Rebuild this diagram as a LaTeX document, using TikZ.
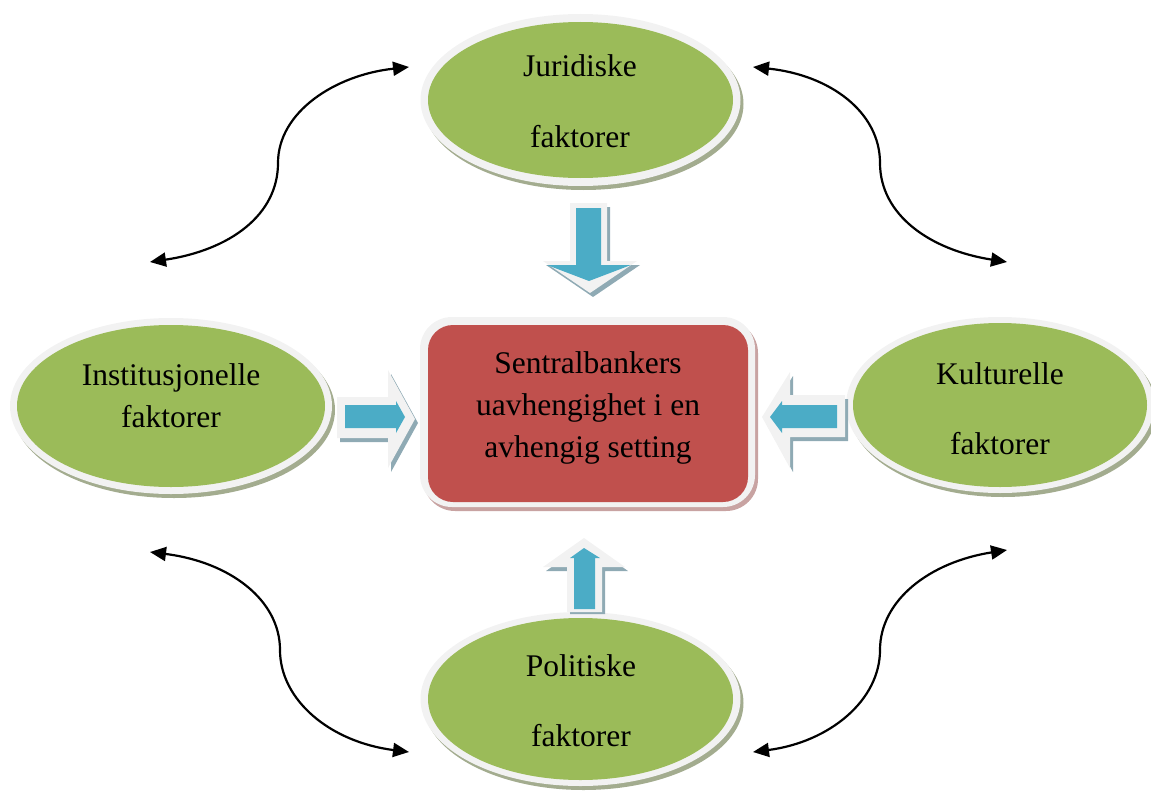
\documentclass[tikz,border=0pt]{standalone}
\usepackage{fontspec}
\setmainfont{Liberation Serif}
\usetikzlibrary{shapes.geometric,arrows.meta}
\definecolor{fgreen}{HTML}{9BBB59}
\definecolor{fred}{HTML}{C0504D}
\definecolor{fblue}{HTML}{4BACC6}
\definecolor{rim}{HTML}{F2F2F2}
\definecolor{gshadow}{HTML}{A3AC8F}
\definecolor{rshadow}{HTML}{C8A3A2}
\definecolor{bshadow}{HTML}{8FAAB4}
\tikzset{
  greenell/.style={ellipse, fill=fgreen, inner sep=0pt, draw=none},
  redbox/.style={rectangle, rounded corners=25pt, fill=fred, inner sep=0pt, draw=none},
  lbl/.style={anchor=base, inner sep=0pt, font=\fontsize{31.5}{38}\selectfont},
  dbl/.style={line width=2.2pt, {Triangle[length=16pt,width=14pt]}-{Triangle[length=16pt,width=14pt]}},
}
\begin{document}
\begin{tikzpicture}[x=1pt,y=-1pt]
\useasboundingbox (0,0) rectangle (1151,792);

% ---------- ellipses (shadow, rim, green) ----------
% top
\fill[gshadow] (583.5,104) ellipse [x radius=160pt, y radius=86pt];
\fill[rim] (580.5,100) ellipse [x radius=160pt, y radius=86pt];
\node[greenell, minimum width=305pt, minimum height=156pt] (jur) at (580.5,100) {};
% left
\fill[gshadow] (174,410) ellipse [x radius=161pt, y radius=88pt];
\fill[rim] (171,406) ellipse [x radius=161pt, y radius=88pt];
\node[greenell, minimum width=308pt, minimum height=162pt] (inst) at (171,406) {};
% right
\fill[gshadow] (1003,409) ellipse [x radius=154pt, y radius=88pt];
\fill[rim] (1000,405) ellipse [x radius=154pt, y radius=88pt];
\node[greenell, minimum width=294pt, minimum height=164pt] (kult) at (1000,405) {};
% bottom
\fill[gshadow] (583.5,703) ellipse [x radius=160pt, y radius=87pt];
\fill[rim] (580.5,699) ellipse [x radius=160pt, y radius=87pt];
\node[greenell, minimum width=305pt, minimum height=162pt] (pol) at (580.5,699) {};

% ---------- central box ----------
\fill[rshadow, rounded corners=32pt] (423,321) rectangle (758,511);
\fill[rim, rounded corners=32pt] (420,317) rectangle (755,507);
\node[redbox, minimum width=320pt, minimum height=177pt] (cb) at (588,413.5) {};

% ---------- block arrows ----------
% down arrow (top)
\fill[bshadow] (573,207) -- (610,207) -- (610,265) -- (640,265) -- (593,297) -- (546,265) -- (573,265) -- cycle;
\fill[rim] (570,203) -- (607,203) -- (607,261) -- (637,261) -- (590,293) -- (543,261) -- (570,261) -- cycle;
\fill[fblue] (576,208) -- (601,208) -- (601,265) -- (631,265) -- (589,281) -- (547,265) -- (576,265) -- cycle;
% right-pointing arrow (left)
\fill[bshadow] (340,401) -- (391,401) -- (391,374) -- (418,423) -- (391,472) -- (391,442) -- (340,442) -- cycle;
\fill[rim] (337,397) -- (388,397) -- (388,370) -- (415,419) -- (388,468) -- (388,438) -- (337,438) -- cycle;
\fill[fblue] (345,405) -- (396,405) -- (396,401) -- (405,417) -- (396,433) -- (396,428) -- (345,428) -- cycle;
% left-pointing arrow (right)
\fill[bshadow] (848,399) -- (793,399) -- (793,376) -- (765,421) -- (793,472) -- (793,441) -- (848,441) -- cycle;
\fill[rim] (845,395) -- (790,395) -- (790,372) -- (762,417) -- (790,468) -- (790,437) -- (845,437) -- cycle;
\fill[fblue] (837,405) -- (782,405) -- (782,401) -- (770,417) -- (782,433) -- (782,428) -- (837,428) -- cycle;
% up arrow (bottom)
\fill[bshadow] (570,614) -- (570,571) -- (546,571) -- (587,542) -- (628,571) -- (605,571) -- (605,614) -- cycle;
\fill[rim] (567,612) -- (567,567) -- (543,567) -- (584,538) -- (625,567) -- (602,567) -- (602,612) -- cycle;
\fill[fblue] (574,609) -- (574,558) -- (570,558) -- (584,548) -- (600,558) -- (595,558) -- (595,609) -- cycle;

% ---------- texts ----------
\node[lbl] (jur1) at (580,77) {Juridiske};
\node[lbl] (jur2) at (580,147) {faktorer};
\node[lbl] (inst1) at (171,385) {Institusjonelle};
\node[lbl] (inst2) at (171,427) {faktorer};
\node[lbl] (kult1) at (1000,384) {Kulturelle};
\node[lbl] (kult2) at (1000,454) {faktorer};
\node[lbl] (pol1) at (581,676) {Politiske};
\node[lbl] (pol2) at (581,746) {faktorer};
\node[lbl] (cb1) at (588,373) {Sentralbankers};
\node[lbl] (cb2) at (588,415) {uavhengighet i en};
\node[lbl] (cb3) at (588,457) {avhengig setting};

% ---------- curved double arrows ----------
\coordinate (tlA) at (150,262);
\coordinate (tlM) at (278,163);
\coordinate (tlB) at (409,67);
\coordinate (trA) at (753,67);
\coordinate (trM) at (880,163);
\coordinate (trB) at (1007,262);
\coordinate (blA) at (150,552);
\coordinate (blM) at (280,650);
\coordinate (blB) at (409,752);
\coordinate (brA) at (753,752);
\coordinate (brM) at (880,650);
\coordinate (brB) at (1007,550);
\draw[dbl] (tlA) .. controls (230,250) and (278,215) .. (tlM) .. controls (278,112) and (335,75) .. (tlB);
\draw[dbl] (trA) .. controls (830,75) and (880,112) .. (trM) .. controls (880,215) and (930,250) .. (trB);
\draw[dbl] (blA) .. controls (230,562) and (280,600) .. (blM) .. controls (280,700) and (330,742) .. (blB);
\draw[dbl] (brA) .. controls (830,742) and (880,700) .. (brM) .. controls (880,600) and (930,562) .. (brB);
\end{tikzpicture}
\end{document}
